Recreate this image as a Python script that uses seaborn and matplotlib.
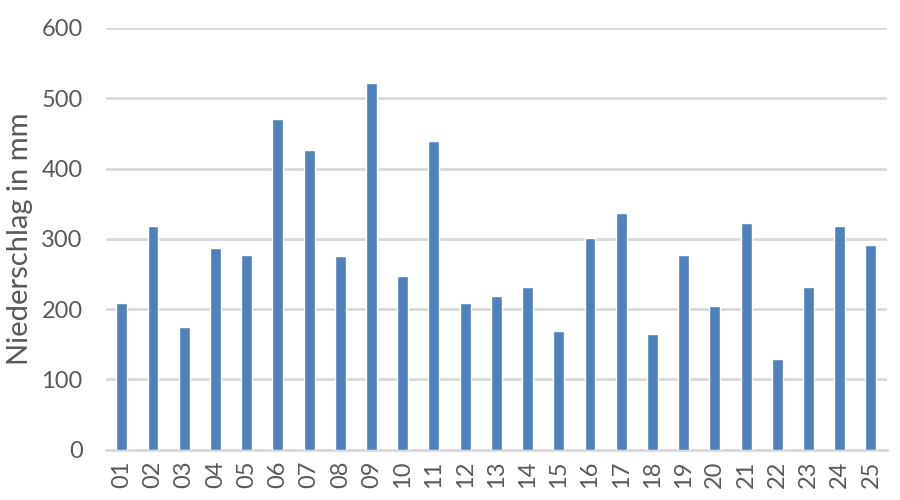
import matplotlib
matplotlib.use("Agg")
import matplotlib.pyplot as plt
import seaborn as sns
import pandas as pd

# 데이터
jahre = ["01", "02", "03", "04", "05", "06", "07", "08", "09", "10", "11", "12", "13",
         "14", "15", "16", "17", "18", "19", "20", "21", "22", "23", "24", "25"]
niederschlag = [209, 318, 174, 287, 277, 470, 426, 275, 521, 247, 439, 209, 219,
                231, 169, 301, 337, 164, 277, 204, 323, 129, 232, 318, 291]

df = pd.DataFrame({"jahr": jahre, "mm": niederschlag})

sns.set_theme(style="white")
plt.rcParams["font.family"] = ["Lato", "DejaVu Sans"]

fig = plt.figure(figsize=(9, 5), dpi=100)
ax = fig.add_axes([0.118, 0.101, 0.867, 0.843])

sns.barplot(data=df, x="jahr", y="mm", color="#4F81BD", width=0.35,
            saturation=1, ax=ax, zorder=3)

ax.set_ylim(0, 600)
ax.set_yticks(range(0, 601, 100))
ax.yaxis.grid(True, color="#D9D9D9", linewidth=2)
ax.set_axisbelow(True)
for s in ["top", "right", "left"]:
    ax.spines[s].set_visible(False)
ax.spines["bottom"].set_color("#D9D9D9")
ax.spines["bottom"].set_linewidth(2)

ax.set_xlabel("")
ax.set_ylabel("Niederschlag in mm", fontsize=21, color="#595959", labelpad=6)
ax.tick_params(axis="y", labelsize=17, labelcolor="#595959", length=0, pad=17)
ax.tick_params(axis="x", labelsize=17, labelcolor="#595959", length=0, pad=8,
               labelrotation=90)

fig.savefig("out.png", dpi=100)
